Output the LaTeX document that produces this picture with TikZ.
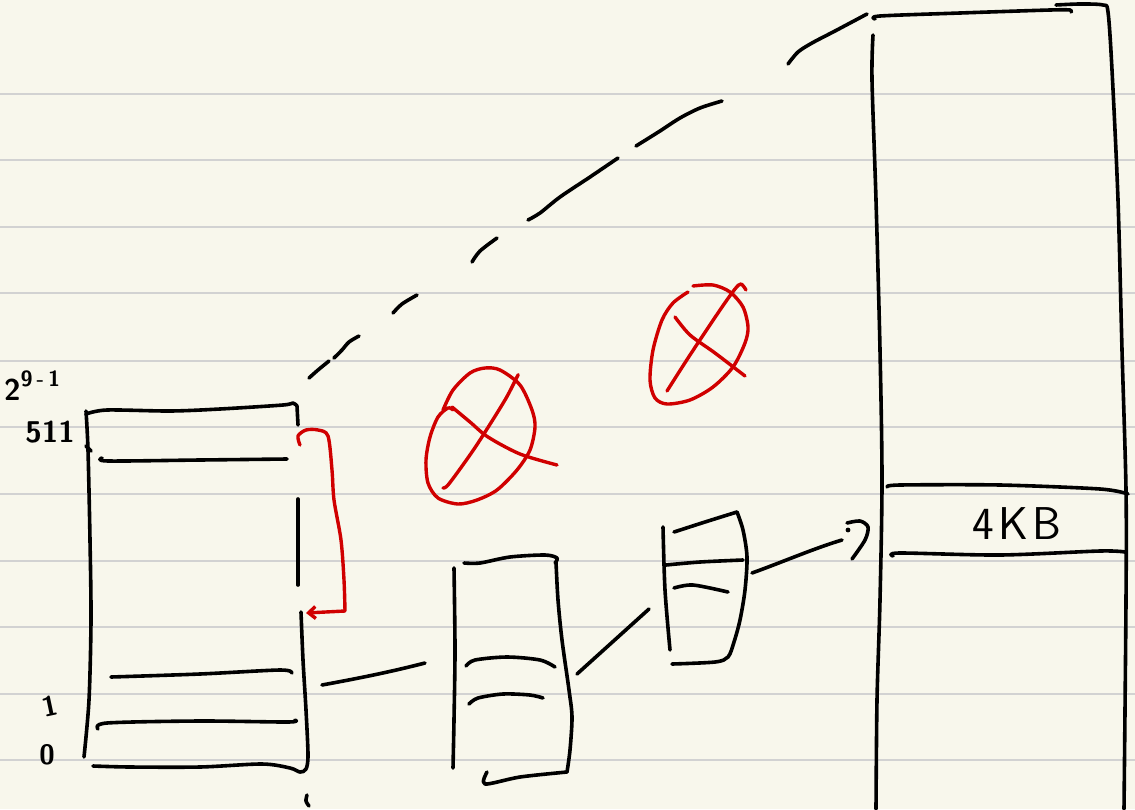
\documentclass[tikz,border=0pt]{standalone}
\usepackage{fontspec}
\usetikzlibrary{arrows.meta}
\definecolor{paper}{HTML}{F8F7EC}
\definecolor{ruled}{HTML}{D2D2D2}
\definecolor{redink}{HTML}{D00000}
\tikzset{
  pen/.style={line width=3.6pt, line cap=round, line join=round, black},
  redpen/.style={line width=3.4pt, line cap=round, line join=round, redink},
  ruleline/.style={line width=2pt, ruled},
  hand/.style={inner sep=0pt, text=black}
}
\begin{document}
\begin{tikzpicture}[x=1pt,y=-1pt]
\fill[paper] (0,0) rectangle (1135,809);
\useasboundingbox (0,0) rectangle (1135,809);
\foreach \y in {94,160,227,293,361,427,494,561,627,694,760}
  \draw[ruleline] (0,\y) -- (1135,\y);

% ---------- labels ----------
\node[hand, font=\sffamily\bfseries\fontsize{30}{30}\selectfont, anchor=base west] (top) at (4,400) {2\raisebox{0.45em}{\fontsize{22}{22}\selectfont 9\,-\,1}};
\node[hand, font=\sffamily\bfseries\fontsize{30}{30}\selectfont] (l511) at (50,432) {511};
\node[hand, font=\sffamily\bfseries\fontsize{28}{28}\selectfont, rotate=12] (l1) at (50,706) {1};
\node[hand, font=\sffamily\bfseries\fontsize{28}{28}\selectfont] (l0) at (47,755) {0};

% ---------- left table ----------
\draw[pen] plot[smooth] coordinates {(86,411) (88,450) (90,540) (91,620) (89,700) (84,757)};
\draw[pen] plot[smooth] coordinates {(86,414) (107,410) (170,411) (220,409) (283,405) (293,403) (297,406)};
\draw[pen] (297,406) -- (298,425);
\draw[pen] (86,446) -- (91,451);
\draw[pen] plot[smooth] coordinates {(102,458) (108,461) (200,460) (287,459)};
\draw[pen] (298,499) -- (298,585);
\draw[pen] plot[smooth] coordinates {(301,612) (303,660) (306,710) (308,755) (306,769) (300,772) (290,768) (262,764) (200,767) (130,767) (93,766)};
\draw[pen] plot[smooth] coordinates {(111,677) (200,674) (280,670) (292,673)};
\draw[pen] plot[smooth] coordinates {(98,729) (107,723) (200,721) (288,722) (295,720)};
\draw[pen] plot[smooth] coordinates {(307,795) (306,801) (309,806)};

% red bracket
\draw[redpen, -{Straight Barb[length=7pt,width=12pt]}] plot[smooth] coordinates {(300,445) (298,436) (306,430) (318,430) (328,436) (332,470) (334,500) (341,540) (344,580) (345,611)} -- (306,613);

% ---------- connectors ----------
\coordinate (c1a) at (322,685);
\coordinate (c1b) at (425,663);
\draw[pen] (c1a) .. controls (360,678) and (390,672) .. (c1b);

% ---------- middle table ----------
\draw[pen] plot[smooth] coordinates {(454,568) (455,650) (454,720) (453,768)};
\draw[pen] plot[smooth] coordinates {(464,563) (480,563) (510,557) (545,555) (557,558) (555,563)};
\draw[pen] plot[smooth] coordinates {(556,562) (558,600) (562,640) (569,690) (572,717) (570,750) (567,772)};
\draw[pen] plot[smooth] coordinates {(487,772) (485,784) (520,777) (567,772)};
\draw[pen] plot[smooth] coordinates {(466,666) (475,660) (507,657) (540,660) (555,667)};
\draw[pen] plot[smooth] coordinates {(469,704) (478,698) (503,694) (530,695) (543,698)};

\coordinate (c2a) at (577,674);
\coordinate (c2b) at (649,609);
\draw[pen] (c2a) -- (c2b);

% ---------- small table ----------
\draw[pen] plot[smooth] coordinates {(663,527) (665,590) (670,650)};
\draw[pen] plot[smooth] coordinates {(674,532) (705,522) (737,512)};
\draw[pen] plot[smooth] coordinates {(737,512) (743,530) (747,557) (745,590) (740,620) (734,642) (728,657) (715,662) (672,664)};
\draw[pen] plot[smooth] coordinates {(666,565) (700,562) (743,560)};
\draw[pen] plot[smooth] coordinates {(674,588) (693,585) (728,592)};

\coordinate (c3a) at (752,573);
\coordinate (c3b) at (842,540);
\draw[pen] (c3a) .. controls (780,563) and (815,548) .. (c3b);
\fill (848,530) circle (2.4pt);
\draw[pen] plot[smooth] coordinates {(847,523) (860,521) (868,527) (865,540) (852,559)};

% ---------- page (4KB) ----------
\draw[pen] plot[smooth] coordinates {(875,19) (880,16) (960,13) (1050,10) (1070,10) (1071,12)};
\draw[pen] plot[smooth] coordinates {(1056,5) (1080,4) (1103,5) (1108,12) (1112,70) (1118,200) (1122,350) (1126,490) (1126,600) (1124,809)};
\draw[pen] plot[smooth] coordinates {(873,35) (872,80) (876,200) (880,350) (882,480) (880,600) (877,700) (876,809)};
\draw[pen] plot[smooth] coordinates {(887,487) (900,485) (1000,485) (1100,489) (1128,494)};
\draw[pen] plot[smooth] coordinates {(893,556) (900,553) (1000,555) (1100,551) (1125,552)};
\node[hand, font=\sffamily\fontsize{46}{46}\selectfont] (kb) at (1017,524) {4\kern4pt K\kern4pt B};

% ---------- dashed hand line ----------
\draw[pen] plot[smooth] coordinates {(309,378) (318,370) (329,361)};
\draw[pen] plot[smooth] coordinates {(334,358) (342,350) (349,342) (359,336)};
\draw[pen] plot[smooth] coordinates {(393,313) (402,304) (417,295)};
\draw[pen] plot[smooth] coordinates {(472,262) (480,251) (497,238)};
\draw[pen] plot[smooth] coordinates {(528,220) (540,213) (560,197) (590,177) (618,158)};
\draw[pen] plot[smooth] coordinates {(636,146) (660,131) (680,118) (700,108) (722,101)};
\draw[pen] plot[smooth] coordinates {(788,64) (798,52) (812,43) (835,31) (867,14)};

% ---------- red crossed circles ----------
\draw[redpen] plot[smooth] coordinates {(443,410) (453,390) (470,373) (485,368) (500,370) (520,385) (532,410) (535,427) (530,450) (517,470) (497,490) (477,500) (458,504) (438,498) (428,483) (426,460) (430,437) (438,417) (448,408) (453,410)};
\draw[redpen] plot[smooth] coordinates {(443,488) (448,485) (465,462) (480,440) (505,400) (517,377) (518,375)};
\draw[redpen] plot[smooth] coordinates {(452,407) (470,422) (488,437) (520,454) (557,465)};

\draw[redpen] plot[smooth] coordinates {(688,292) (673,303) (662,320) (653,350) (650,380) (655,398) (667,404) (690,400) (713,387) (733,367) (745,343) (748,327) (743,307) (730,292) (713,285) (693,286)};
\draw[redpen] plot[smooth] coordinates {(667,391) (690,355) (720,310) (735,289) (741,284) (746,290)};
\draw[redpen] plot[smooth] coordinates {(675,317) (690,335) (715,353) (745,376)};
\end{tikzpicture}
\end{document}
